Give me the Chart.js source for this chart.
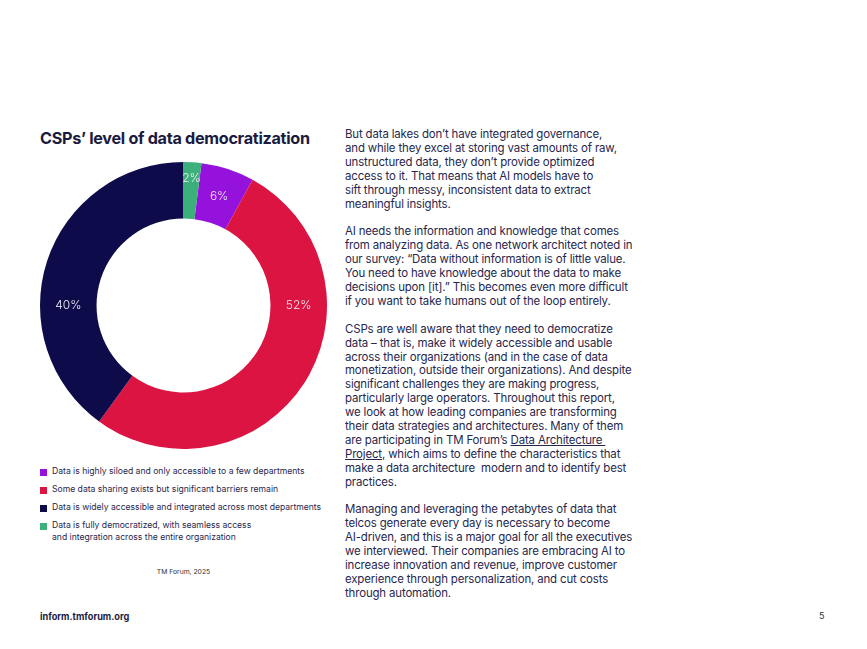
<!DOCTYPE html>
<html>
<head>
<meta charset="utf-8">
<script src="https://cdn.jsdelivr.net/npm/chart.js@4.4.1/dist/chart.umd.min.js"></script>
<style>
  html, body { margin: 0; padding: 0; background: #fff; }
  body { width: 867px; height: 649px; position: relative; overflow: hidden; font-family: "Inter", "Noto Sans", sans-serif; color: #27264d; }
  #title { position: absolute; left: 40px; top: 128px; font-size: 16.2px; font-weight: 700; color: #1b1a3f; white-space: nowrap; letter-spacing: -0.3px; }
  #chartBox { position: absolute; left: 40px; top: 162px; width: 287px; height: 287px; }
  #legend { position: absolute; left: 40px; top: 466px; font-size: 8.6px; line-height: 11.5px; }
  .item { position: relative; padding-left: 12px; margin-bottom: 6.5px; white-space: nowrap; }
  .item span { position: absolute; left: 0; top: 2.5px; width: 7px; height: 7px; }
  #source { position: absolute; left: 40px; width: 287px; top: 567px; text-align: center; font-size: 6.8px; color: #333; }
  #site { position: absolute; left: 40px; top: 611px; font-size: 9.2px; font-weight: 700; color: #1b1a3f; }
  #page { position: absolute; left: 819px; top: 610px; font-size: 9px; color: #333; }
  #body { position: absolute; left: 345px; top: 128px; font-size: 11.45px; line-height: 13.9px; white-space: nowrap; letter-spacing: -0.15px; }
  #body a { color: inherit; text-decoration: underline; }
</style>
</head>
<body>
<div id="title">CSPs’ level of data democratization</div>
<div id="chartBox"><canvas id="myChart"></canvas></div>
<div id="legend"></div>
<div id="source">TM Forum, 2025</div>
<div id="site">inform.tmforum.org</div>
<div id="page">5</div>
<div id="body">
But data lakes don’t have integrated governance,<br>
and while they excel at storing vast amounts of raw,<br>
unstructured data, they don’t provide optimized<br>
access to it. That means that AI models have to<br>
sift through messy, inconsistent data to extract<br>
meaningful insights.<br>
<br>
AI needs the information and knowledge that comes<br>
from analyzing data. As one network architect noted in<br>
our survey: “Data without information is of little value.<br>
You need to have knowledge about the data to make<br>
decisions upon [it].” This becomes even more difficult<br>
if you want to take humans out of the loop entirely.<br>
<br>
CSPs are well aware that they need to democratize<br>
data – that is, make it widely accessible and usable<br>
across their organizations (and in the case of data<br>
monetization, outside their organizations). And despite<br>
significant challenges they are making progress,<br>
particularly large operators. Throughout this report,<br>
we look at how leading companies are transforming<br>
their data strategies and architectures. Many of them<br>
are participating in TM Forum’s <a>Data Architecture&nbsp;</a><br>
<a>Project,</a> which aims to define the characteristics that<br>
make a data architecture &nbsp;modern and to identify best<br>
practices.<br>
<br>
Managing and leveraging the petabytes of data that<br>
telcos generate every day is necessary to become<br>
AI-driven, and this is a major goal for all the executives<br>
we interviewed. Their companies are embracing AI to<br>
increase innovation and revenue, improve customer<br>
experience through personalization, and cut costs<br>
through automation.
</div>
<script>
const labels = [
  "Data is highly siloed and only accessible to a few departments",
  "Some data sharing exists but significant barriers remain",
  "Data is widely accessible and integrated across most departments",
  ["Data is fully democratized, with seamless access", "and integration across the entire organization"]
];
const values = [6, 52, 40, 2];
const colors = ["#9512dc", "#dc1442", "#0e0b4b", "#3cb07a"];
// where each percentage label sits: "mid" of slice, or a fixed angle (deg from top)
const labelAngle = ["mid", 90, 270, "mid"];
const labelRadius = [0.5, 0.5, 0.5, 0.71];

const legend = document.getElementById("legend");
labels.forEach((l, i) => {
  const text = Array.isArray(l) ? l.join("<br>") : l;
  legend.innerHTML += `<div class="item"><span style="background:${colors[i]}"></span>${text}</div>`;
});

const sliceLabels = {
  id: "sliceLabels",
  afterDatasetsDraw(chart) {
    const ctx = chart.ctx;
    const arcs = chart.getDatasetMeta(0).data;
    ctx.save();
    ctx.fillStyle = "#f1eef6";
    ctx.font = "300 12px Inter, 'Noto Sans', sans-serif";
    ctx.textAlign = "center";
    ctx.textBaseline = "middle";
    arcs.forEach((arc, i) => {
      const p = arc.getProps(["x", "y", "startAngle", "endAngle", "innerRadius", "outerRadius"], true);
      let a;
      if (labelAngle[i] === "mid") {
        a = (p.startAngle + p.endAngle) / 2;
      } else {
        a = (labelAngle[i] - 90) * Math.PI / 180;
      }
      const r = p.innerRadius + (p.outerRadius - p.innerRadius) * labelRadius[i];
      ctx.fillText(values[i] + "%", p.x + Math.cos(a) * r, p.y + Math.sin(a) * r);
    });
    ctx.restore();
  }
};

new Chart(document.getElementById("myChart"), {
  type: "doughnut",
  data: {
    labels: labels,
    datasets: [
      {
        data: values,
        backgroundColor: colors,
        borderWidth: 0,
      },
    ],
  },
  options: {
    responsive: true,
    maintainAspectRatio: false,
    animation: false,
    cutout: "60.6%",
    rotation: 7.2,
    layout: { padding: 0 },
    plugins: {
      legend: { display: false },
      tooltip: { enabled: false },
    },
  },
  plugins: [sliceLabels],
});
</script>
</body>
</html>
